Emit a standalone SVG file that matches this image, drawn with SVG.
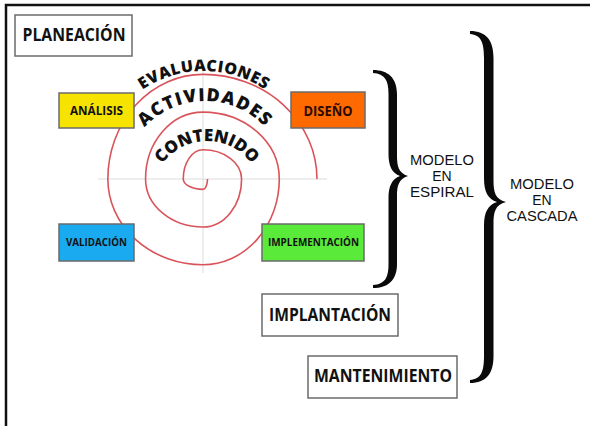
<svg xmlns="http://www.w3.org/2000/svg" width="590" height="426" viewBox="0 0 590 426">
<style>
.box{stroke:#6b6b6b;stroke-width:1.5}
.lbl{font-family:"Open Sans","Liberation Sans",sans-serif;font-weight:bold;fill:#111;text-anchor:middle}
.arc{font-family:"Open Sans","Liberation Sans",sans-serif;font-weight:800;fill:#111}
.mod{font-family:"Liberation Sans","Open Sans",sans-serif;font-size:14px;fill:#111;text-anchor:middle}
.brace{fill:#0a0a0a}
</style>
<defs>
<path id="arcE" d="M 94 181 A 110 110 0 0 1 314 181"/>
<path id="arcA" d="M 123 183 A 82 82 0 0 1 287 183"/>
<path id="arcC" d="M 152 196 A 55 55 0 0 1 262 196"/>
</defs>
<rect x="6" y="5" width="620" height="440" fill="#fff" stroke="#111" stroke-width="2.5"/>
<g id="spiral">
<line x1="98" y1="179" x2="327" y2="179" stroke="#dcdcdc" stroke-width="1"/>
<line x1="203" y1="65" x2="203" y2="273" stroke="#dcdcdc" stroke-width="1"/>
<path fill="none" stroke="#d9545a" stroke-width="1.6" d="M 317 179 A 114 104.58 0 0 0 203 74.42 A 95.15 104.58 0 0 0 107.85 179 A 95.15 85.73 0 0 0 203 264.73 A 76.3 85.73 0 0 0 279.3 179 A 76.3 66.88 0 0 0 203 112.12 A 57.45 66.88 0 0 0 145.55 179 A 57.45 48.03 0 0 0 203 227.03 A 38.6 48.03 0 0 0 241.6 179 A 38.6 29.18 0 0 0 203 149.82 A 19.75 29.18 0 0 0 183.25 179 A 19.75 10.33 0 0 0 203 189.33 A 4.5 10.33 0 0 0 207.5 179"/>
<text class="arc" font-size="16" letter-spacing="0.5"><textPath href="#arcE" startOffset="50%" text-anchor="middle">EVALUACIONES</textPath></text>
<text class="arc" font-size="18" letter-spacing="1.4"><textPath href="#arcA" startOffset="50%" text-anchor="middle">ACTIVIDADES</textPath></text>
<text class="arc" font-size="17"><textPath href="#arcC" startOffset="50%" text-anchor="middle">CONTENIDO</textPath></text>
</g>
<g id="planeacion">
<rect class="box" x="15" y="15" width="117" height="41" fill="#fff"/>
<text class="lbl" x="74" y="41" font-size="17" textLength="103" lengthAdjust="spacingAndGlyphs">PLANEACIÓN</text>
</g>
<g id="analisis">
<rect class="box" x="59" y="93" width="75" height="35" fill="#f7e300"/>
<text class="lbl" x="96.5" y="115" font-size="12" textLength="53" lengthAdjust="spacingAndGlyphs">ANÁLISIS</text>
</g>
<g id="diseno">
<rect class="box" x="291" y="92" width="74" height="36" fill="#ff6a00"/>
<text class="lbl" x="328" y="116" font-size="13.5" textLength="49" lengthAdjust="spacingAndGlyphs" style="fill:#2a0a00">DISEÑO</text>
</g>
<g id="validacion">
<rect class="box" x="59" y="224" width="75" height="37" fill="#1aaaf0"/>
<text class="lbl" x="96.5" y="246" font-size="11" textLength="61" lengthAdjust="spacingAndGlyphs">VALIDACIÓN</text>
</g>
<g id="implementacion">
<rect class="box" x="262" y="224" width="102" height="37" fill="#5aea3a"/>
<text class="lbl" x="313.5" y="246" font-size="11" textLength="91" lengthAdjust="spacingAndGlyphs">IMPLEMENTACIÓN</text>
</g>
<g id="implantacion">
<rect class="box" x="262" y="294" width="136" height="42" fill="#fff"/>
<text class="lbl" x="330" y="321" font-size="17" textLength="122" lengthAdjust="spacingAndGlyphs">IMPLANTACIÓN</text>
</g>
<g id="mantenimiento">
<rect class="box" x="308" y="356" width="149" height="42" fill="#fff"/>
<text class="lbl" x="383" y="382" font-size="17" textLength="138" lengthAdjust="spacingAndGlyphs">MANTENIMIENTO</text>
</g>
<g id="connectors">
<path class="brace" d="M 373 70 C 388 70 397 78 397 94 L 397 156 C 397 166 398.5 173 408 176 C 398.5 179 397 186 397 196 L 397 264 C 397 280 388 288 373 288 L 373 285 C 385 284 388.5 278 388.5 264 L 388.5 198 C 388.5 186 392 179 400 176 C 392 173 388.5 166 388.5 154 L 388.5 94 C 388.5 80 385 74 373 73 Z"/>
<path class="brace" d="M 470 31 C 486 31 493.5 40 493.5 58 L 493.5 180 C 493.5 192 495 199 506 202 C 495 205 493.5 212 493.5 224 L 493.5 356 C 493.5 374 486 383 470 383 L 470 380 C 481 379 484 372 484 356 L 484 226 C 484 212 488 205 497 202 C 488 199 484 192 484 178 L 484 58 C 484 42 481 35 470 34 Z"/>
</g>
<g id="modelo-espiral">
<text class="mod" x="442" y="165" textLength="64" lengthAdjust="spacingAndGlyphs">MODELO</text>
<text class="mod" x="442" y="181">EN</text>
<text class="mod" x="442" y="197" textLength="64" lengthAdjust="spacingAndGlyphs">ESPIRAL</text>
</g>
<g id="modelo-cascada">
<text class="mod" x="542" y="189" textLength="64" lengthAdjust="spacingAndGlyphs">MODELO</text>
<text class="mod" x="542" y="205">EN</text>
<text class="mod" x="542" y="221" textLength="71" lengthAdjust="spacingAndGlyphs">CASCADA</text>
</g>
</svg>
